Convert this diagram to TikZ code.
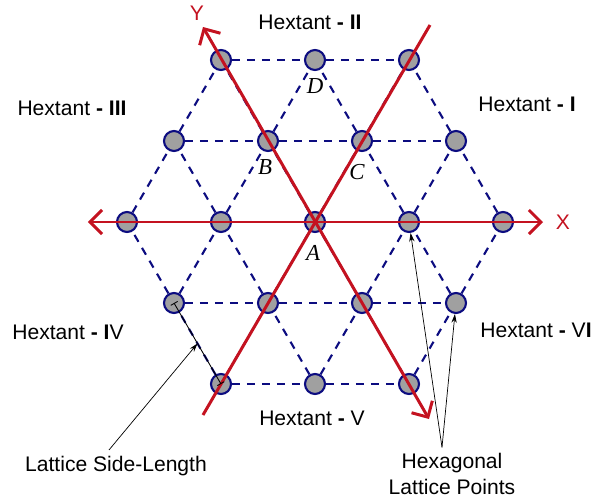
\documentclass[tikz,border=0pt]{standalone}
\usepackage{fontspec}
\setmainfont{Liberation Sans}
\newfontfamily\ptfont{Liberation Serif}
\usetikzlibrary{arrows.meta}
\definecolor{axisred}{RGB}{196,18,32}
\definecolor{latnavy}{RGB}{12,12,128}
\definecolor{ptgray}{RGB}{160,160,160}
\begin{document}
\begin{tikzpicture}[x=0.02cm,y=0.02cm, every node/.style={font=\fontsize{12}{14.5}\selectfont},
 pt/.style={circle,draw=latnavy,fill=ptgray,line width=1.2pt,minimum size=0.4cm,inner sep=0pt},
 lat/.style={draw=latnavy,line width=1.2pt,dash pattern=on 4.5pt off 4pt},
 axis/.style={draw=axisred,line width=1.7pt},
 ptlabel/.style={font=\ptfont\itshape\fontsize{13}{15}\selectfont},
 callout/.style={line width=0.4pt,-{Stealth[length=5pt,width=3pt]}}]
 \useasboundingbox (-315,-279) rectangle (287,222);
 \node[pt] (t1) at (-94,162) {};
 \node[pt] (t2) at (0,162) {};
 \node[pt] (t3) at (94,162) {};
 \node[pt] (u1) at (-141,81) {};
 \node[pt] (u2) at (-47,81) {};
 \node[pt] (u3) at (47,81) {};
 \node[pt] (u4) at (141,81) {};
 \node[pt] (m1) at (-188,0) {};
 \node[pt] (m2) at (-94,0) {};
 \node[pt] (m3) at (0,0) {};
 \node[pt] (m4) at (94,0) {};
 \node[pt] (m5) at (188,0) {};
 \node[pt] (l1) at (-141,-81) {};
 \node[pt] (l2) at (-47,-81) {};
 \node[pt] (l3) at (47,-81) {};
 \node[pt] (l4) at (141,-81) {};
 \node[pt] (b1) at (-94,-162) {};
 \node[pt] (b2) at (0,-162) {};
 \node[pt] (b3) at (94,-162) {};
 \draw[lat] (t1) -- (t2) -- (t3);
 \draw[lat] (u1) -- (u2) -- (u3) -- (u4);
 \draw[lat] (m1) -- (m2) -- (m3) -- (m4) -- (m5);
 \draw[lat] (l1) -- (l2) -- (l3) -- (l4);
 \draw[lat] (b1) -- (b2) -- (b3);
 \draw[lat] (m1) -- (u1) -- (t1);
 \draw[lat] (l1) -- (m2) -- (u2) -- (t2);
 \draw[lat] (b1) -- (l2) -- (m3) -- (u3) -- (t3);
 \draw[lat] (b2) -- (l3) -- (m4) -- (u4);
 \draw[lat] (b3) -- (l4) -- (m5);
 \draw[lat] (b1) -- (l1) -- (m1);
 \draw[lat] (b2) -- (l2) -- (m2) -- (u1);
 \draw[lat] (b3) -- (l3) -- (m3) -- (u2) -- (t1);
 \draw[lat] (l4) -- (m4) -- (u3) -- (t2);
 \draw[lat] (m5) -- (u4) -- (t3);
 \coordinate (xl) at (-227,0);
 \coordinate (xr) at (228,0);
 \coordinate (yt) at (-112,195);
 \coordinate (yb) at (114,-197);
 \coordinate (wt) at (115,197);
 \coordinate (wb) at (-112,-193);
 \draw[axis,{Straight Barb[length=0.24cm,width=0.48cm]}-{Straight Barb[length=0.24cm,width=0.48cm]}] (xl) -- (xr);
 \draw[axis,{Straight Barb[length=0.24cm,width=0.48cm]}-{Straight Barb[length=0.24cm,width=0.48cm]}] (yb) -- (yt);
 \draw[axis] (wb) -- (wt);
 \node[text=axisred] (xlab) at (248,0) {X};
 \node[text=axisred] (ylab) at (-118,209) {Y};
 \node[ptlabel] (la) at (-2,-31) {A};
 \node[ptlabel] (lb) at (-50,55) {B};
 \node[ptlabel] (lc) at (42,50) {C};
 \node[ptlabel] (ld) at (0,136) {D};
 \node (h1) at (212,118) {Hextant \textbf{- I}};
 \node (h2) at (-5,200) {Hextant \textbf{- II}};
 \node (h3) at (-243,114) {Hextant \textbf{- III}};
 \node (h4) at (-247,-110) {Hextant \textbf{- I}V};
 \node (h5) at (-3,-196) {Hextant \textbf{-} V};
 \node (h6) at (221,-108) {Hextant \textbf{-} V\textbf{I}};
 \draw[line width=0.5pt,{Bar[width=4.5pt]}-{Bar[width=4.5pt]}] (l1.center) -- (b1.center) coordinate[pos=0.5] (sl);
 \node (sltxt) at (-199,-244) {Lattice Side-Length};
 \draw[callout] ([xshift=-0.14cm]sltxt.north) -- (sl);
 \node[align=center] (hlp) at (137,-252) {Hexagonal\\Lattice Points};
 \draw[callout] ([xshift=-0.2cm]hlp.north) -- (m4);
 \draw[callout] ([xshift=-0.2cm]hlp.north) -- (l4);
\end{tikzpicture}
\end{document}
